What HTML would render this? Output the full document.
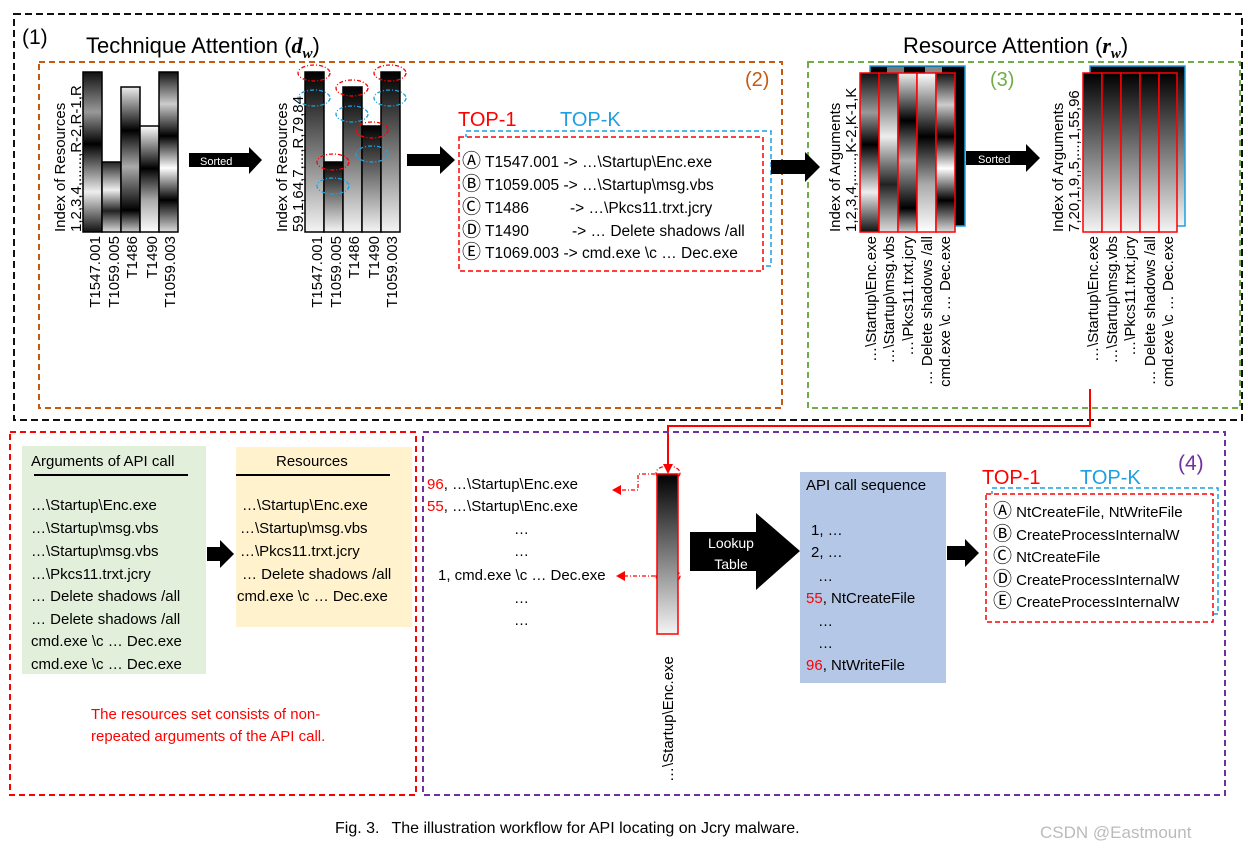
<!DOCTYPE html>
<html><head><meta charset="utf-8"><style>
html,body{margin:0;padding:0;background:#fff;}
svg{display:block;}
text{font-family:"Liberation Sans",sans-serif;}
.n{font-family:"Liberation Sans Narrow","Liberation Sans",sans-serif;}
</style></head><body>
<svg width="1248" height="851" viewBox="0 0 1248 851" xmlns="http://www.w3.org/2000/svg">
<defs>
<linearGradient id="gd" x1="0" y1="0" x2="0" y2="1"><stop offset="0" stop-color="#000"/><stop offset="1" stop-color="#f4f4f4"/></linearGradient>
<linearGradient id="s1" x1="0" y1="0" x2="0" y2="1"><stop offset="0" stop-color="#111"/><stop offset=".25" stop-color="#999"/><stop offset=".45" stop-color="#000"/><stop offset=".75" stop-color="#eee"/><stop offset="1" stop-color="#111"/></linearGradient>
<linearGradient id="s2" x1="0" y1="0" x2="0" y2="1"><stop offset="0" stop-color="#222"/><stop offset=".4" stop-color="#eee"/><stop offset=".7" stop-color="#222"/><stop offset="1" stop-color="#ddd"/></linearGradient>
<linearGradient id="s3" x1="0" y1="0" x2="0" y2="1"><stop offset="0" stop-color="#eee"/><stop offset=".3" stop-color="#000"/><stop offset=".55" stop-color="#aaa"/><stop offset=".85" stop-color="#000"/><stop offset="1" stop-color="#ccc"/></linearGradient>
<linearGradient id="s4" x1="0" y1="0" x2="0" y2="1"><stop offset="0" stop-color="#fff"/><stop offset=".4" stop-color="#000"/><stop offset=".7" stop-color="#aaa"/><stop offset="1" stop-color="#fff"/></linearGradient>
<linearGradient id="s5" x1="0" y1="0" x2="0" y2="1"><stop offset="0" stop-color="#111"/><stop offset=".2" stop-color="#ccc"/><stop offset=".4" stop-color="#000"/><stop offset=".6" stop-color="#fff"/><stop offset=".8" stop-color="#000"/><stop offset="1" stop-color="#ddd"/></linearGradient>
</defs>

<rect x="14" y="14" width="1228" height="406" fill="none" stroke="#111" stroke-width="2" stroke-dasharray="7,4"/>
<text x="22" y="44" font-size="21">(1)</text>
<text x="86" y="53" font-size="22">Technique Attention (<tspan font-family="Liberation Serif" font-weight="bold" font-style="italic">d</tspan><tspan font-family="Liberation Serif" font-weight="bold" font-style="italic" font-size="15" dy="5">w</tspan><tspan dy="-5">)</tspan></text>
<text x="903" y="53" font-size="22">Resource Attention (<tspan font-family="Liberation Serif" font-weight="bold" font-style="italic">r</tspan><tspan font-family="Liberation Serif" font-weight="bold" font-style="italic" font-size="15" dy="5">w</tspan><tspan dy="-5">)</tspan></text>

<rect x="39" y="62" width="743" height="346" fill="none" stroke="#c55a11" stroke-width="2" stroke-dasharray="6,4"/>
<text x="745" y="86" font-size="20" fill="#c55a11">(2)</text>
<rect x="808" y="62" width="432" height="346" fill="none" stroke="#70ad47" stroke-width="2" stroke-dasharray="6,4"/>
<text x="990" y="86" font-size="20" fill="#70ad47">(3)</text>

<g stroke="#000" stroke-width="1.5">
<rect x="83" y="72" width="19" height="160" fill="url(#s1)"/>
<rect x="102" y="162" width="19" height="70" fill="url(#s2)"/>
<rect x="121" y="87" width="19" height="145" fill="url(#s3)"/>
<rect x="140" y="126" width="19" height="106" fill="url(#s4)"/>
<rect x="159" y="72" width="19" height="160" fill="url(#s5)"/>
</g>
<g font-size="15">
<text transform="translate(65,232) rotate(-90)">Index of Resources</text>
<text transform="translate(81,232) rotate(-90)">1,2,3,4,......,R-2,R-1,R</text>
<text transform="translate(100,236) rotate(-90)" text-anchor="end">T1547.001</text>
<text transform="translate(119,236) rotate(-90)" text-anchor="end">T1059.005</text>
<text transform="translate(137,236) rotate(-90)" text-anchor="end">T1486</text>
<text transform="translate(157,236) rotate(-90)" text-anchor="end">T1490</text>
<text transform="translate(175,236) rotate(-90)" text-anchor="end">T1059.003</text>
</g>
<polygon points="189,153 249,153 249,147 262,160 249,174 249,167 189,167" fill="#000"/>
<text x="200" y="165" font-size="11" fill="#fff">Sorted</text>

<g stroke="#000" stroke-width="1.5" fill="url(#gd)">
<rect x="305" y="72" width="19" height="160"/>
<rect x="324" y="162" width="19" height="70"/>
<rect x="343" y="87" width="19" height="145"/>
<rect x="362" y="126" width="19" height="106"/>
<rect x="381" y="72" width="19" height="160"/>
</g>
<g fill="none" stroke-width="1.3" stroke-dasharray="4,2,1,2">
<ellipse cx="314" cy="73" rx="16" ry="8" stroke="#f00"/>
<ellipse cx="314" cy="98" rx="16" ry="8" stroke="#1ea0e0"/>
<ellipse cx="333" cy="162" rx="16" ry="8" stroke="#f00"/>
<ellipse cx="333" cy="186" rx="16" ry="8" stroke="#1ea0e0"/>
<ellipse cx="352" cy="88" rx="16" ry="8" stroke="#f00"/>
<ellipse cx="352" cy="114" rx="16" ry="8" stroke="#1ea0e0"/>
<ellipse cx="372" cy="130" rx="16" ry="8" stroke="#f00"/>
<ellipse cx="372" cy="154" rx="16" ry="8" stroke="#1ea0e0"/>
<ellipse cx="390" cy="73" rx="16" ry="8" stroke="#f00"/>
<ellipse cx="390" cy="98" rx="16" ry="8" stroke="#1ea0e0"/>
</g>
<g font-size="15">
<text transform="translate(287,232) rotate(-90)">Index of Resources</text>
<text transform="translate(303,232) rotate(-90)">59,1,64,7,...,R,79,84</text>
<text transform="translate(322,236) rotate(-90)" text-anchor="end">T1547.001</text>
<text transform="translate(341,236) rotate(-90)" text-anchor="end">T1059.005</text>
<text transform="translate(359,236) rotate(-90)" text-anchor="end">T1486</text>
<text transform="translate(379,236) rotate(-90)" text-anchor="end">T1490</text>
<text transform="translate(397,236) rotate(-90)" text-anchor="end">T1059.003</text>
</g>
<polygon points="407,154 440,154 440,146 455,160 440,174 440,166 407,166" fill="#000"/>

<text x="458" y="126" font-size="20" fill="#f00">TOP-1</text>
<text x="560" y="126" font-size="20" fill="#1ea0e0">TOP-K</text>
<rect x="466" y="131" width="305" height="135" fill="none" stroke="#1ea0e0" stroke-width="1.5" stroke-dasharray="5,3"/>
<rect x="459" y="137" width="304" height="134" fill="#fff" stroke="#f00" stroke-width="1.5" stroke-dasharray="5,3"/>
<g font-size="15.5">
<text x="462" y="167"><tspan font-size="19">Ⓐ</tspan> T1547.001 -&gt; …\Startup\Enc.exe</text>
<text x="462" y="190"><tspan font-size="19">Ⓑ</tspan> T1059.005 -&gt; …\Startup\msg.vbs</text>
<text x="462" y="213"><tspan font-size="19">Ⓒ</tspan> T1486<tspan x="570">-&gt; …\Pkcs11.trxt.jcry</tspan></text>
<text x="462" y="236"><tspan font-size="19">Ⓓ</tspan> T1490<tspan x="572">-&gt; … Delete shadows /all</tspan></text>
<text x="462" y="258"><tspan font-size="19">Ⓔ</tspan> T1069.003 -&gt; cmd.exe \c … Dec.exe</text>
</g>
<polygon points="771,160 805,160 805,152 820,167 805,182 805,174 771,174" fill="#000"/>

<rect x="870" y="66" width="95" height="160" fill="#000" stroke="#1ea0e0" stroke-width="1.5"/>
<rect x="887" y="67" width="17" height="158" fill="#777"/>
<rect x="925" y="67" width="17" height="158" fill="#888"/>
<g stroke="#f00" stroke-width="1.5">
<rect x="860" y="73" width="19" height="159" fill="url(#s1)"/>
<rect x="879" y="73" width="19" height="159" fill="url(#s2)"/>
<rect x="898" y="73" width="19" height="159" fill="url(#s3)"/>
<rect x="917" y="73" width="19" height="159" fill="url(#s4)"/>
<rect x="936" y="73" width="19" height="159" fill="url(#s5)"/>
</g>
<g font-size="15">
<text transform="translate(840,232) rotate(-90)">Index of Arguments</text>
<text transform="translate(856,232) rotate(-90)">1,2,3,4,......,K-2,K-1,K</text>
<text transform="translate(876,236) rotate(-90)" text-anchor="end">…\Startup\Enc.exe</text>
<text transform="translate(894,236) rotate(-90)" text-anchor="end">…\Startup\msg.vbs</text>
<text transform="translate(913,236) rotate(-90)" text-anchor="end">…\Pkcs11.trxt.jcry</text>
<text transform="translate(932,236) rotate(-90)" text-anchor="end">… Delete shadows /all</text>
<text transform="translate(950,236) rotate(-90)" text-anchor="end">cmd.exe \c … Dec.exe</text>
</g>
<polygon points="966,151 1026,151 1026,144 1040,158 1026,172 1026,165 966,165" fill="#000"/>
<text x="978" y="163" font-size="11" fill="#fff">Sorted</text>

<rect x="1090" y="66" width="95" height="160" fill="url(#gd)" stroke="#1ea0e0" stroke-width="1.5"/>
<g stroke="#f00" stroke-width="1.5" fill="url(#gd)">
<rect x="1083" y="73" width="19" height="159"/>
<rect x="1102" y="73" width="19" height="159"/>
<rect x="1121" y="73" width="19" height="159"/>
<rect x="1140" y="73" width="19" height="159"/>
<rect x="1159" y="73" width="18" height="159"/>
</g>
<g font-size="15">
<text transform="translate(1063,232) rotate(-90)">Index of Arguments</text>
<text transform="translate(1079,232) rotate(-90)">7,20,1,9,,5,...,1,55,96</text>
<text transform="translate(1098,236) rotate(-90)" text-anchor="end">…\Startup\Enc.exe</text>
<text transform="translate(1117,236) rotate(-90)" text-anchor="end">…\Startup\msg.vbs</text>
<text transform="translate(1135,236) rotate(-90)" text-anchor="end">…\Pkcs11.trxt.jcry</text>
<text transform="translate(1155,236) rotate(-90)" text-anchor="end">… Delete shadows /all</text>
<text transform="translate(1173,236) rotate(-90)" text-anchor="end">cmd.exe \c … Dec.exe</text>
</g>

<polyline points="1090,389 1090,426 668,426 668,466" fill="none" stroke="#f00" stroke-width="2"/>
<polygon points="663,464 673,464 668,474" fill="#f00"/>

<rect x="10" y="432" width="406" height="363" fill="none" stroke="#f00" stroke-width="2" stroke-dasharray="6,4"/>
<rect x="22" y="446" width="184" height="228" fill="#e2efda"/>
<rect x="236" y="447" width="176" height="180" fill="#fff2cc"/>
<g font-size="15">
<text x="31" y="466">Arguments of API call</text>
<line x1="34" y1="475" x2="188" y2="475" stroke="#000" stroke-width="2"/>
<text x="276" y="466">Resources</text>
<line x1="236" y1="475" x2="390" y2="475" stroke="#000" stroke-width="2"/>
<text x="31" y="510">…\Startup\Enc.exe</text>
<text x="31" y="533">…\Startup\msg.vbs</text>
<text x="31" y="556">…\Startup\msg.vbs</text>
<text x="31" y="579">…\Pkcs11.trxt.jcry</text>
<text x="31" y="601">… Delete shadows /all</text>
<text x="31" y="624">… Delete shadows /all</text>
<text x="31" y="646">cmd.exe \c … Dec.exe</text>
<text x="31" y="669">cmd.exe \c … Dec.exe</text>
<text x="242" y="510">…\Startup\Enc.exe</text>
<text x="240" y="533">…\Startup\msg.vbs</text>
<text x="240" y="556">…\Pkcs11.trxt.jcry</text>
<text x="242" y="579">… Delete shadows /all</text>
<text x="237" y="601">cmd.exe \c … Dec.exe</text>
</g>
<polygon points="207,547 220,547 220,540 234,554 220,568 220,561 207,561" fill="#000"/>
<text x="91" y="719" font-size="15" fill="#f00">The resources set consists of non-</text>
<text x="91" y="741" font-size="15" fill="#f00">repeated arguments of the API call.</text>

<rect x="423" y="432" width="802" height="363" fill="none" stroke="#7030a0" stroke-width="2" stroke-dasharray="6,4"/>
<text x="1178" y="470" font-size="21" fill="#7030a0">(4)</text>
<g class="n" font-size="15">
<text x="427" y="489"><tspan fill="#f00">96</tspan>, …\Startup\Enc.exe</text>
<text x="427" y="511"><tspan fill="#f00">55</tspan>, …\Startup\Enc.exe</text>
<text x="514" y="534">…</text>
<text x="514" y="556">…</text>
<text x="438" y="580">1, cmd.exe \c … Dec.exe</text>
<text x="514" y="603">…</text>
<text x="514" y="625">…</text>
</g>
<g fill="none" stroke="#f00" stroke-width="1.3" stroke-dasharray="4,2,1,2">
<polyline points="655,474 638,474 638,490 620,490"/>
<polyline points="655,576 624,576"/>
<ellipse cx="668" cy="473" rx="12" ry="7"/>
<ellipse cx="668" cy="576" rx="12" ry="7"/>
</g>
<polygon points="612,490 621,485 621,495" fill="#f00"/>
<polygon points="616,576 625,571 625,581" fill="#f00"/>
<rect x="657" y="474" width="21" height="160" fill="url(#gd)" stroke="#f00" stroke-width="1.5"/>
<text transform="translate(673,782) rotate(-90)" font-size="15">…\Startup\Enc.exe</text>

<polygon points="690,532 756,532 756,513 800,551 756,590 756,571 690,571" fill="#000"/>
<text class="n" x="731" y="548" font-size="14" fill="#fff" text-anchor="middle">Lookup</text>
<text class="n" x="731" y="569" font-size="14" fill="#fff" text-anchor="middle">Table</text>

<rect x="800" y="472" width="146" height="211" fill="#b4c7e7"/>
<g class="n" font-size="15">
<text x="806" y="490">API call sequence</text>
<text x="811" y="535">1, …</text>
<text x="811" y="557">2, …</text>
<text x="818" y="581">…</text>
<text x="806" y="603"><tspan fill="#f00">55</tspan>, NtCreateFile</text>
<text x="818" y="626">…</text>
<text x="818" y="648">…</text>
<text x="806" y="670"><tspan fill="#f00">96</tspan>, NtWriteFile</text>
</g>
<polygon points="947,546 965,546 965,539 979,553 965,567 965,560 947,560" fill="#000"/>

<text x="982" y="484" font-size="20" fill="#f00">TOP-1</text>
<text x="1080" y="484" font-size="20" fill="#1ea0e0">TOP-K</text>
<rect x="992" y="488" width="226" height="126" fill="none" stroke="#1ea0e0" stroke-width="1.5" stroke-dasharray="5,3"/>
<rect x="986" y="494" width="227" height="128" fill="#fff" stroke="#f00" stroke-width="1.5" stroke-dasharray="5,3"/>
<g class="n" font-size="15">
<text x="993" y="517"><tspan font-size="19">Ⓐ</tspan> NtCreateFile, NtWriteFile</text>
<text x="993" y="540"><tspan font-size="19">Ⓑ</tspan> CreateProcessInternalW</text>
<text x="993" y="562"><tspan font-size="19">Ⓒ</tspan> NtCreateFile</text>
<text x="993" y="585"><tspan font-size="19">Ⓓ</tspan> CreateProcessInternalW</text>
<text x="993" y="607"><tspan font-size="19">Ⓔ</tspan> CreateProcessInternalW</text>
</g>

<text x="335" y="833" font-family="Liberation Serif" font-size="16">Fig. 3.<tspan dx="12">The illustration workflow for API locating on Jcry malware.</tspan></text>
<text x="1040" y="838" font-size="17" fill="#bbb">CSDN @Eastmount</text>
</svg>
</body></html>
